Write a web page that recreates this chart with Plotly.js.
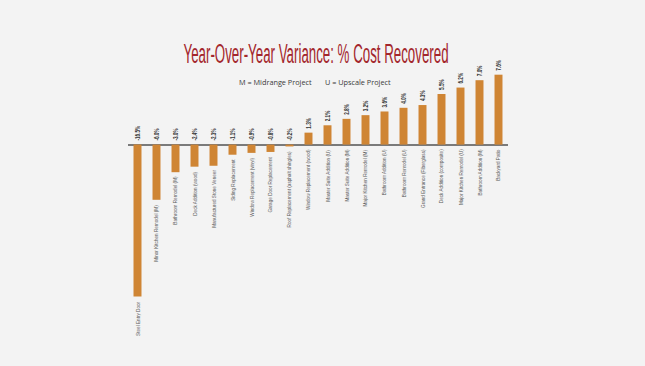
<!DOCTYPE html>
<html>
<head>
<meta charset="utf-8">
<script src="https://cdn.plot.ly/plotly-3.0.1.min.js"></script>
<style>
html,body{margin:0;padding:0;background:#f3f3f3;}
#chart{width:645px;height:366px;}
</style>
</head>
<body>
<div id="chart"></div>
<script>
const categories = [
  "Steel Entry Door",
  "Minor Kitchen Remodel (M)",
  "Bathroom Remodel (M)",
  "Deck Addition (wood)",
  "Manufactured Stone Veneer",
  "Siding Replacement",
  "Window Replacement (vinyl)",
  "Garage Door Replacement",
  "Roof Replacement (asphalt shingles)",
  "Window Replacement (wood)",
  "Master Suite Addition (U)",
  "Master Suite Addition (M)",
  "Major Kitchen Remodel (M)",
  "Bathroom Addition (U)",
  "Bathroom Remodel (U)",
  "Grand Entrance (Fiberglass)",
  "Deck Addition (composite)",
  "Major Kitchen Remodel (U)",
  "Bathroom Addition (M)",
  "Backyard Patio"
];
const values = [-16.5, -6.0, -3.0, -2.4, -2.3, -1.1, -0.9, -0.8, -0.2, 1.3, 2.1, 2.8, 3.2, 3.6, 4.0, 4.3, 5.5, 6.2, 7.0, 7.6];
const valueLabels = values.map(v => v.toFixed(1) + "%");

const narrow = "'Liberation Sans', Arial, sans-serif";
const VAL_F = 0.72, CAT_F = 0.8;

const annotations = [];
categories.forEach((c, i) => {
  const v = values[i];
  annotations.push({
    x: c, y: v >= 0 ? v : 0, xref: 'x', yref: 'y',
    text: valueLabels[i], showarrow: false, textangle: -90,
    xanchor: 'center', yanchor: 'bottom', yshift: 2,
    font: {family: narrow, size: 6.5, color: '#333333', weight: 'bold'},
    name: 'val'
  });
  annotations.push({
    x: c, y: v < 0 ? v : 0, xref: 'x', yref: 'y',
    text: c, showarrow: false, textangle: -90,
    xanchor: 'center', yanchor: 'top', yshift: -3,
    font: {family: narrow, size: 5.8, color: '#5a5a5a'},
    name: 'cat'
  });
});
annotations.push({
  xref: 'paper', yref: 'paper', x: 0.492, y: 1, yshift: -11,
  text: "M = Midrange Project&nbsp;&nbsp;&nbsp;&nbsp;&nbsp;&nbsp;&nbsp;U = Upscale Project",
  showarrow: false, xanchor: 'center', yanchor: 'middle',
  font: {family: "'Open Sans', 'Liberation Sans', sans-serif", size: 7.3, color: '#3a3a3a'},
  name: 'sub'
});

const data = [{
  type: 'bar', x: categories, y: values,
  marker: {color: '#cf8534'},
  hoverinfo: 'none'
}];

const layout = {
  width: 645, height: 366,
  paper_bgcolor: '#f3f3f3', plot_bgcolor: '#f3f3f3',
  margin: {l: 128, r: 137, t: 71, b: 65},
  bargap: 0.58,
  showlegend: false,
  title: {
    text: "Year-Over-Year Variance: % Cost Recovered",
    x: 0.49, xanchor: 'center', y: 0.855, yanchor: 'middle',
    font: {family: narrow, size: 27, color: '#a3262c'}
  },
  xaxis: {type: 'category', showticklabels: false, showgrid: false, zeroline: false, showline: false, ticks: ''},
  yaxis: {range: [-17, 8], showticklabels: false, showgrid: false, zeroline: true,
          zerolinecolor: '#7a7a7a', zerolinewidth: 2, showline: false, ticks: ''},
  annotations: annotations
};

function annTexts(gd) {
  return Array.from(gd.querySelectorAll('.annotation')).map(a => a.querySelector('text.annotation-text'));
}

function squeezeAll(gd) {
  const t = gd.querySelector('.gtitle');
  if (t) {
    t.setAttribute('textLength', 265);
    t.setAttribute('lengthAdjust', 'spacingAndGlyphs');
  }
  annTexts(gd).forEach((txt, idx) => {
    const ann = layout.annotations[idx];
    if (!txt || !ann) return;
    const f = ann.name === 'val' ? VAL_F : ann.name === 'cat' ? CAT_F : null;
    if (f === null) return;
    const len = lengths[idx];
    txt.setAttribute('textLength', (len * f).toFixed(2));
    txt.setAttribute('lengthAdjust', 'spacingAndGlyphs');
  });
}

const lengths = [];
Plotly.newPlot('chart', data, layout, {displayModeBar: false, staticPlot: true}).then(gd => {
  const upd = {};
  annTexts(gd).forEach((txt, idx) => {
    const ann = layout.annotations[idx];
    if (!txt || !ann) return;
    const len = txt.getComputedTextLength();
    lengths[idx] = len;
    if (ann.name === 'val') upd['annotations[' + idx + '].yshift'] = ann.yshift - len * (1 - VAL_F) / 2;
    else if (ann.name === 'cat') upd['annotations[' + idx + '].yshift'] = ann.yshift + len * (1 - CAT_F) / 2;
  });
  return Plotly.relayout(gd, upd);
}).then(gd => {
  squeezeAll(gd);
});
</script>
</body>
</html>
